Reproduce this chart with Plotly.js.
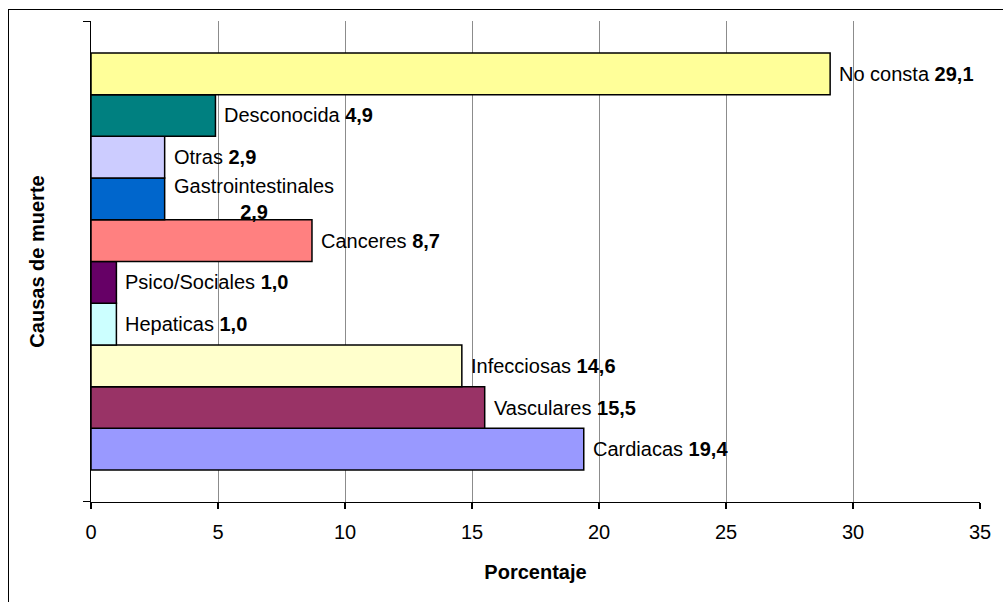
<!DOCTYPE html>
<html>
<head>
<meta charset="utf-8">
<script src="https://cdn.plot.ly/plotly-3.0.1.min.js"></script>
<style>
  html, body { margin: 0; padding: 0; background: #fff; overflow: hidden; }
  #chart { position: absolute; left: 0; top: 0; width: 1003px; height: 602px; }
  #frame { position: absolute; left: 8px; top: 9px; width: 1100px; height: 700px;
           border-left: 1px solid #000; border-top: 1px solid #000; pointer-events: none; }
</style>
</head>
<body>
<div id="chart"></div>
<div id="frame"></div>
<script>
// Data (bottom to top)
const categories = ["Cardiacas", "Vasculares", "Infecciosas", "Hepaticas", "Psico/Sociales",
                    "Canceres", "Gastrointestinales", "Otras", "Desconocida", "No consta"];
const values = [19.4, 15.5, 14.6, 1.0, 1.0, 8.7, 2.9, 2.9, 4.9, 29.1];
const barColors = ["#9999FF", "#993366", "#FFFFCC", "#CCFFFF", "#660066",
                   "#FF8080", "#0066CC", "#CCCCFF", "#008080", "#FFFF99"];
const wrappedLabels = ["Gastrointestinales"];
const xTicks = [0, 5, 10, 15, 20, 25, 30, 35];

const FONT = '"Liberation Sans", Arial, sans-serif';
const FS = 20;
const positions = categories.map((c, i) => i);
const fmt = v => v.toFixed(1).replace('.', ',');

const trace = {
  type: 'bar',
  orientation: 'h',
  x: values,
  y: positions,
  width: 1,
  marker: { color: barColors, line: { color: '#000', width: 1.5 } },
  hoverinfo: 'none',
  showlegend: false
};

const annotations = categories.map((c, i) => ({
  x: values[i], y: positions[i], xref: 'x', yref: 'y',
  xanchor: 'left', yanchor: 'middle', xshift: 7, align: 'center',
  showarrow: false,
  text: wrappedLabels.includes(c) ? c + '<br><b>' + fmt(values[i]) + '</b>'
                                  : c + ' <b>' + fmt(values[i]) + '</b>',
  font: { family: FONT, size: FS, color: '#000' }
}));

const yLo = -1.265, yHi = 10.265;

const layout = {
  width: 1003, height: 602,
  margin: { l: 91, r: 23, t: 21, b: 100, pad: 0 },
  paper_bgcolor: '#fff', plot_bgcolor: '#fff',
  font: { family: FONT, size: FS, color: '#000' },
  xaxis: {
    range: [0, 35], tickvals: xTicks, ticktext: xTicks.map(String),
    showgrid: true, gridcolor: '#8c8c8c', gridwidth: 1,
    zeroline: false, showline: true, linecolor: '#000', linewidth: 1.2,
    ticks: 'outside', ticklen: 6, tickcolor: '#000', tickwidth: 1.2,
    ticklabelstandoff: 6,
    tickfont: { family: FONT, size: FS, color: '#000' },
    title: { text: '<b>Porcentaje</b>', font: { family: FONT, size: FS, color: '#000' }, standoff: 22 }
  },
  yaxis: {
    range: [yLo, yHi], tickvals: [yLo + 0.005, yHi - 0.005], ticktext: ['', ''],
    showgrid: false, zeroline: false, showline: true, linecolor: '#000', linewidth: 1.2,
    ticks: 'outside', ticklen: 7, tickcolor: '#000', tickwidth: 1.2,
    title: { text: '<b>Causas de muerte</b>', font: { family: FONT, size: FS, color: '#000' }, standoff: 28 }
  },
  annotations: annotations
};

Plotly.newPlot('chart', [trace], layout, { staticPlot: true, displayModeBar: false });
</script>
</body>
</html>
